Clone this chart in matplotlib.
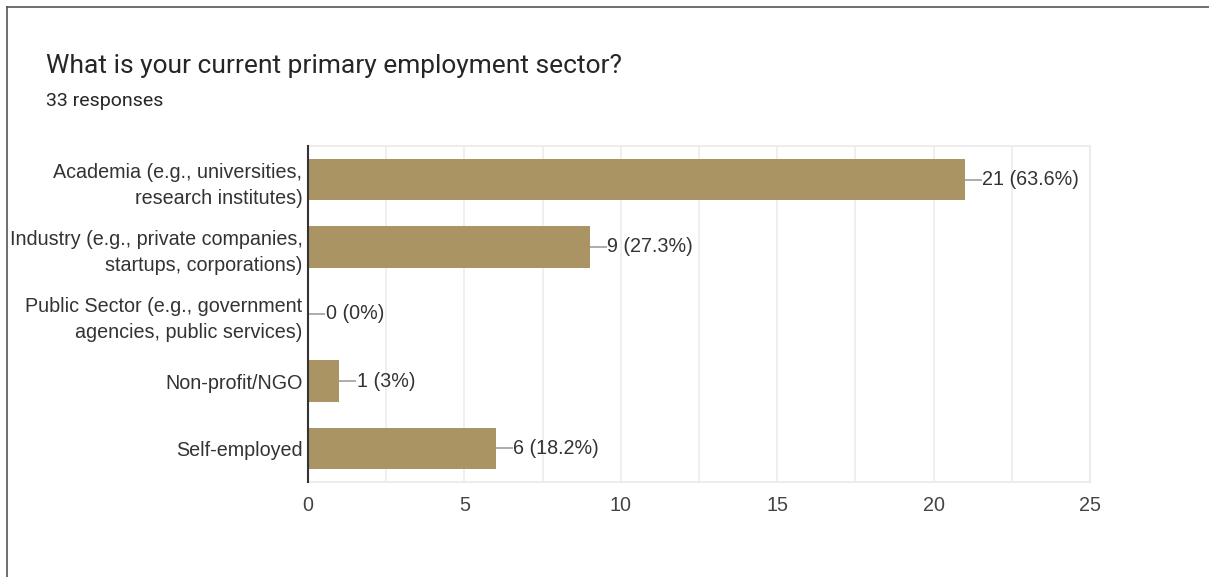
import matplotlib.pyplot as plt
from matplotlib.lines import Line2D

# --- DATA ---
categories = [
    "Academia (e.g., universities,\nresearch institutes)",
    "Industry (e.g., private companies,\nstartups, corporations)",
    "Public Sector (e.g., government\nagencies, public services)",
    "Non-profit/NGO",
    "Self-employed",
]
counts = [21, 9, 0, 1, 6]
percent_labels = ["63.6%", "27.3%", "0%", "3%", "18.2%"]
x_ticks = [0, 5, 10, 15, 20, 25]

BAR_COLOR = "#ab9463"
TEXT_COLOR = "#333333"
GRID_COLOR = "#ececec"
LABEL_FONT = ["Liberation Sans", "DejaVu Sans"]
FS = 14.2

fig = plt.figure(figsize=(12.09, 5.77), dpi=100)
ax = fig.add_axes([308 / 1209, 1 - 482 / 577, (1090 - 308) / 1209, (482 - 146) / 577])

ypos = list(range(len(categories)))
ax.barh(ypos, counts, height=0.62, color=BAR_COLOR, zorder=3)

# value labels with small leader line
for y, c, p in zip(ypos, counts, percent_labels):
    ax.plot([c, c + 0.55], [y, y], color="#9e9e9e", lw=1.2, zorder=3, solid_capstyle="butt")
    ax.text(c + 0.56, y, f"{c} ({p})", va="center", ha="left",
            fontsize=FS, color=TEXT_COLOR, family=LABEL_FONT)

ax.set_ylim(4.5, -0.5)
ax.set_xlim(0, 25)
ax.set_yticks(ypos)
ax.set_yticklabels(categories, fontsize=FS, color=TEXT_COLOR, family=LABEL_FONT,
                   linespacing=1.5)
ax.set_xticks(x_ticks)
ax.set_xticklabels([str(t) for t in x_ticks], fontsize=FS, color="#444444", family=LABEL_FONT)
ax.tick_params(axis="both", length=0)
ax.tick_params(axis="x", pad=10)
ax.tick_params(axis="y", pad=4)

# minor gridlines every 2.5
ax.set_xticks([i * 2.5 for i in range(11)], minor=True)
ax.tick_params(axis="x", which="minor", length=0)
ax.grid(axis="x", which="both", color=GRID_COLOR, lw=1.2, zorder=0)

for side in ["top", "right", "bottom"]:
    ax.spines[side].set_color(GRID_COLOR)
    ax.spines[side].set_linewidth(1.5)
ax.spines["left"].set_color("#333333")
ax.spines["left"].set_linewidth(1.5)
ax.spines["left"].set_zorder(4)

# title and subtitle
fig.text(46 / 1209, 1 - 66 / 577, "What is your current primary employment sector?",
         fontsize=19, color="#262626", family=["Roboto", "DejaVu Sans"], va="center", ha="left")
fig.text(46 / 1209, 1 - 101 / 577, "33 responses",
         fontsize=14, color="#262626", family=["Roboto", "DejaVu Sans"], va="center", ha="left")

# card border (left and top edges)
fig.add_artist(Line2D([7 / 1209, 7 / 1209], [0, 1 - 7 / 577], color="#555555", lw=1.2,
                      transform=fig.transFigure))
fig.add_artist(Line2D([7 / 1209, 1], [1 - 7 / 577, 1 - 7 / 577], color="#555555", lw=1.2,
                      transform=fig.transFigure))

fig.savefig("out.png", dpi=100)
